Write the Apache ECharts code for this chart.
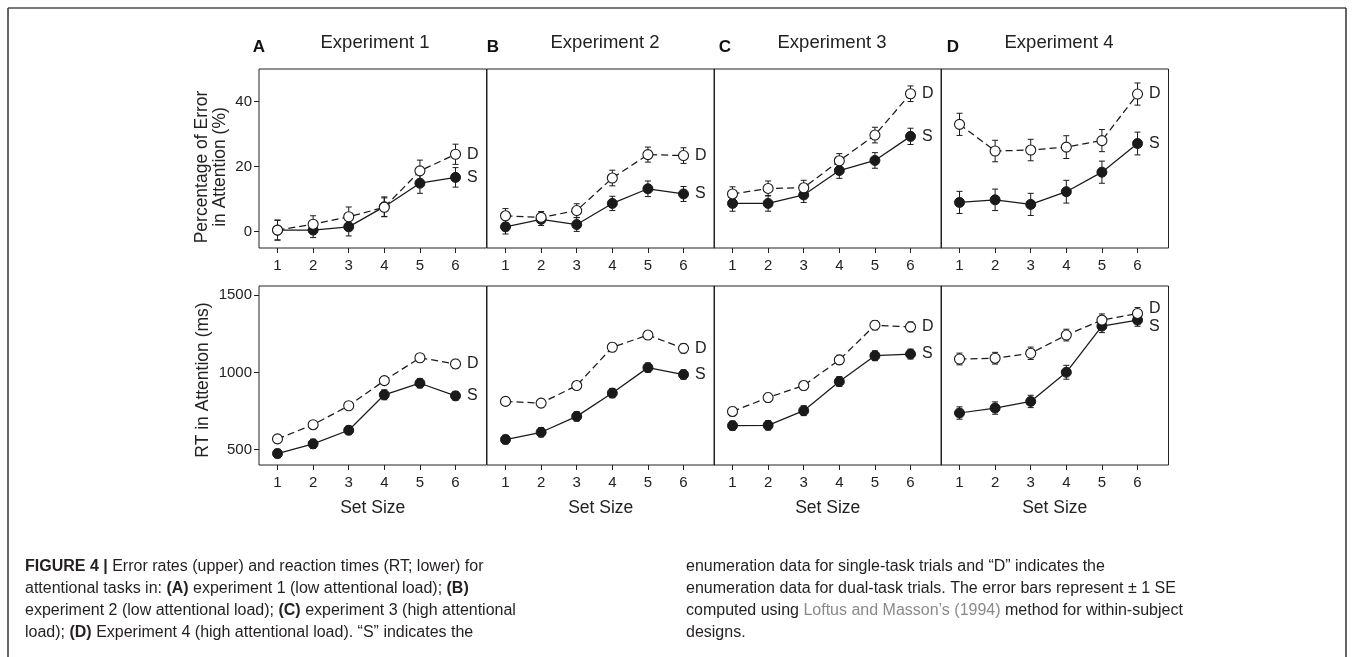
<!DOCTYPE html>
<html>
<head>
<meta charset="utf-8">
<script src="https://cdn.jsdelivr.net/npm/echarts@6/dist/echarts.min.js"></script>
<style>
html,body{margin:0;padding:0;background:#fff;}
#chart{width:1354px;height:657px;}
</style>
</head>
<body>
<div id="chart"></div>
<script>
// ---------- data ----------
const setSizes = [1, 2, 3, 4, 5, 6];
const xTickLabels = ['1', '2', '3', '4', '5', '6'];
const errTicks = [0, 20, 40];
const rtTicks = [500, 1000, 1500];
const panelLetters = ['A', 'B', 'C', 'D'];
const panelTitles = ['Experiment 1', 'Experiment 2', 'Experiment 3', 'Experiment 4'];
const errAxisTitle = ['Percentage of Error', 'in Attention (%)'];
const rtAxisTitle = 'RT in Attention (ms)';
const xAxisTitle = 'Set Size';

// Percentage of error (upper row): means and SE
const err1S = [0.5, 0.5, 1.5, 7.7, 14.9, 16.7];
const err1D = [0.5, 2.3, 4.6, 7.5, 18.7, 23.8];
const err1S_se = [3.1, 2.3, 2.8, 3.0, 3.1, 3.0];
const err1D_se = [3.0, 2.6, 3.0, 2.9, 3.3, 3.1];

const err2S = [1.5, 3.8, 2.2, 8.7, 13.2, 11.6];
const err2D = [4.9, 4.4, 6.5, 16.5, 23.7, 23.4];
const err2S_se = [2.2, 1.9, 2.1, 2.2, 2.4, 2.3];
const err2D_se = [2.2, 1.8, 2.1, 2.4, 2.3, 2.4];

const err3S = [8.7, 8.7, 11.3, 18.8, 21.9, 29.3];
const err3D = [11.6, 13.3, 13.5, 21.8, 29.7, 42.4];
const err3S_se = [2.4, 2.4, 2.3, 2.4, 2.4, 2.5];
const err3D_se = [2.2, 2.3, 2.3, 2.2, 2.4, 2.4];

const err4S = [9.0, 9.8, 8.4, 12.3, 18.3, 27.1];
const err4D = [33.0, 24.8, 25.1, 26.0, 28.0, 42.3];
const err4S_se = [3.4, 3.3, 3.4, 3.5, 3.4, 3.5];
const err4D_se = [3.4, 3.3, 3.3, 3.5, 3.4, 3.4];

// RT in attention (lower row): means and SE (ms)
const rt1S = [474, 537, 625, 855, 930, 848];
const rt1D = [569, 661, 784, 947, 1095, 1055];
const rt1S_se = [28, 30, 28, 32, 30, 28];
const rt1D_se = [25, 22, 24, 24, 26, 30];

const rt2S = [565, 612, 715, 866, 1031, 986];
const rt2D = [812, 801, 915, 1163, 1242, 1156];
const rt2S_se = [28, 30, 30, 30, 30, 30];
const rt2D_se = [26, 26, 26, 28, 28, 30];

const rt3S = [655, 657, 752, 941, 1108, 1119];
const rt3D = [747, 837, 915, 1081, 1306, 1295];
const rt3S_se = [30, 30, 32, 32, 32, 32];
const rt3D_se = [28, 28, 28, 30, 30, 32];

const rt4S = [737, 769, 812, 1001, 1300, 1339];
const rt4D = [1087, 1092, 1124, 1242, 1339, 1382];
const rt4S_se = [40, 40, 40, 45, 42, 40];
const rt4D_se = [38, 38, 40, 38, 40, 38];

const captionLeft = [
  [{t: 'FIGURE 4 | ', s: 'b'}, {t: 'Error rates (upper) and reaction times (RT; lower) for', s: 'n'}],
  [{t: 'attentional tasks in: ', s: 'n'}, {t: '(A)', s: 'b'}, {t: ' experiment 1 (low attentional load); ', s: 'n'}, {t: '(B)', s: 'b'}],
  [{t: 'experiment 2 (low attentional load); ', s: 'n'}, {t: '(C)', s: 'b'}, {t: ' experiment 3 (high attentional', s: 'n'}],
  [{t: 'load); ', s: 'n'}, {t: '(D)', s: 'b'}, {t: ' Experiment 4 (high attentional load). \u201CS\u201D indicates the', s: 'n'}]
];
const captionRight = [
  [{t: 'enumeration data for single-task trials and \u201CD\u201D indicates the', s: 'n'}],
  [{t: 'enumeration data for dual-task trials. The error bars represent \u00B1 1 SE', s: 'n'}],
  [{t: 'computed using ', s: 'n'}, {t: 'Loftus and Masson\u2019s (1994)', s: 'g'}, {t: ' method for within-subject', s: 'n'}],
  [{t: 'designs.', s: 'n'}]
];

// ---------- layout (not data) ----------
const FONT = "'Liberation Sans', Arial, sans-serif";
const INK = '#1a1a1a';
const TXT = '#222';
const colLeft = [259, 487, 714, 941];
const colWidth = 227.5;
const rowTop = [69, 286];
const rowHeight = 179;

const errSets = [
  [err1S, err1D, err1S_se, err1D_se],
  [err2S, err2D, err2S_se, err2D_se],
  [err3S, err3D, err3S_se, err3D_se],
  [err4S, err4D, err4S_se, err4D_se]
];
const rtSets = [
  [rt1S, rt1D, rt1S_se, rt1D_se],
  [rt2S, rt2D, rt2S_se, rt2D_se],
  [rt3S, rt3D, rt3S_se, rt3D_se],
  [rt4S, rt4D, rt4S_se, rt4D_se]
];
// label offsets for end labels (only the crowded last RT panel needs nudging)
const endLabelOffset = {'1-3-D': [0, -5], '1-3-S': [0, 6]};

function renderErrorBar(params, api) {
  const x = api.value(0), lo = api.value(1), hi = api.value(2);
  const a = api.coord([x, lo]), b = api.coord([x, hi]);
  const w = 3;
  const st = {stroke: INK, lineWidth: 1};
  return {
    type: 'group',
    children: [
      {type: 'line', shape: {x1: a[0], y1: a[1], x2: b[0], y2: b[1]}, style: st},
      {type: 'line', shape: {x1: a[0] - w, y1: a[1], x2: a[0] + w, y2: a[1]}, style: st},
      {type: 'line', shape: {x1: b[0] - w, y1: b[1], x2: b[0] + w, y2: b[1]}, style: st}
    ]
  };
}

const grids = [], xAxes = [], yAxes = [], series = [];
for (let r = 0; r < 2; r++) {
  for (let p = 0; p < 4; p++) {
    const gi = r * 4 + p;
    grids.push({
      left: colLeft[p], top: rowTop[r], width: colWidth, height: rowHeight,
      show: true, borderColor: '#222', borderWidth: 1, backgroundColor: 'transparent'
    });
    xAxes.push({
      type: 'value', gridIndex: gi, min: 0.48, max: 6.87,
      axisLine: {show: false, onZero: false}, splitLine: {show: false},
      axisTick: {show: true, customValues: setSizes, length: 5, lineStyle: {color: '#222', width: 1}},
      axisLabel: {
        show: true, customValues: setSizes, margin: 10, fontSize: 15, color: TXT, fontFamily: FONT,
        formatter: v => xTickLabels[setSizes.indexOf(v)]
      },
      name: r === 1 ? xAxisTitle : '', nameLocation: 'middle', nameGap: 34,
      nameTextStyle: {fontSize: 17.5, color: TXT, fontFamily: FONT}
    });
    const first = p === 0;
    yAxes.push({
      type: 'value', gridIndex: gi,
      min: r === 0 ? -5 : 400, max: r === 0 ? 50 : 1560,
      axisLine: {show: false, onZero: false}, splitLine: {show: false},
      axisTick: {show: first, customValues: r === 0 ? errTicks : rtTicks, length: 5, lineStyle: {color: '#222', width: 1}},
      axisLabel: {show: first, customValues: r === 0 ? errTicks : rtTicks, margin: 7, fontSize: 15, color: TXT, fontFamily: FONT,
        formatter: v => String(v)}
    });
    const set = (r === 0 ? errSets : rtSets)[p];
    const kinds = [['S', set[0], set[2]], ['D', set[1], set[3]]];
    kinds.forEach(([k, vals, se]) => {
      series.push({
        type: 'custom', xAxisIndex: gi, yAxisIndex: gi, z: 2, silent: true,
        renderItem: renderErrorBar, encode: {x: 0, y: [1, 2]},
        data: setSizes.map((x, i) => [x, vals[i] - se[i], vals[i] + se[i]])
      });
    });
    kinds.forEach(([k, vals]) => {
      const isD = k === 'D';
      const off = endLabelOffset[r + '-' + p + '-' + k] || [0, 0];
      series.push({
        type: 'line', xAxisIndex: gi, yAxisIndex: gi, z: 3, silent: true,
        symbol: 'circle', symbolSize: 10,
        lineStyle: {color: INK, width: 1.25, type: isD ? [7, 4] : 'solid'},
        itemStyle: isD ? {color: '#fff', borderColor: INK, borderWidth: 1.1} : {color: INK, borderColor: INK},
        emphasis: {disabled: true},
        data: setSizes.map((x, i) => {
          const item = {value: [x, vals[i]]};
          if (i === setSizes.length - 1) {
            item.label = {
              show: true, position: 'right', distance: 6, formatter: k, offset: off,
              fontSize: 16, color: TXT, fontFamily: FONT
            };
          }
          return item;
        })
      });
    });
  }
}

// ---------- graphics: frame, headers, axis titles, caption ----------
const graphics = [
  {type: 'line', shape: {x1: 8, y1: 8, x2: 1346, y2: 8}, style: {stroke: '#7a7a7a', lineWidth: 2}},
  {type: 'line', shape: {x1: 8, y1: 8, x2: 8, y2: 657}, style: {stroke: '#333', lineWidth: 1.5}},
  {type: 'line', shape: {x1: 1346, y1: 8, x2: 1346, y2: 657}, style: {stroke: '#333', lineWidth: 1.5}},
  {type: 'text', x: 211, y: 167, rotation: Math.PI / 2,
    style: {text: errAxisTitle.join('\n'), font: '17.5px ' + FONT, lineHeight: 18, fill: TXT, align: 'center', verticalAlign: 'middle'}},
  {type: 'text', x: 203, y: 380, rotation: Math.PI / 2,
    style: {text: rtAxisTitle, font: '17.5px ' + FONT, fill: TXT, align: 'center', verticalAlign: 'middle'}}
];
const letterX = [259, 493, 725, 953];
const titleX = [375, 605, 832, 1059];
for (let p = 0; p < 4; p++) {
  graphics.push({type: 'text', x: letterX[p], y: 47, style: {text: panelLetters[p], font: "bold 17px " + FONT, fill: '#111', align: 'center', verticalAlign: 'middle'}});
  graphics.push({type: 'text', x: titleX[p], y: 43, style: {text: panelTitles[p], font: "18.5px " + FONT, fill: TXT, align: 'center', verticalAlign: 'middle'}});
}
const capRich = {
  b: {fontFamily: FONT, fontWeight: 'bold', fontSize: 16, fill: '#231f20'},
  n: {fontFamily: FONT, fontSize: 16, fill: '#231f20'},
  g: {fontFamily: FONT, fontSize: 16, fill: '#8a8a8a'}
};
function capLine(parts, x, y) {
  return {
    type: 'text', x: x, y: y,
    style: {
      text: parts.map(q => '{' + q.s + '|' + q.t + '}').join(''),
      rich: capRich, font: '16px ' + FONT, fill: '#231f20', verticalAlign: 'middle'
    }
  };
}
captionLeft.forEach((ln, i) => graphics.push(capLine(ln, 25, 567 + i * 22)));
captionRight.forEach((ln, i) => graphics.push(capLine(ln, 686, 567 + i * 22)));

const chart = echarts.init(document.getElementById('chart'), null, {renderer: 'canvas'});
chart.setOption({
  animation: false,
  backgroundColor: '#fff',
  grid: grids, xAxis: xAxes, yAxis: yAxes, series: series,
  graphic: graphics
});
</script>
</body>
</html>
